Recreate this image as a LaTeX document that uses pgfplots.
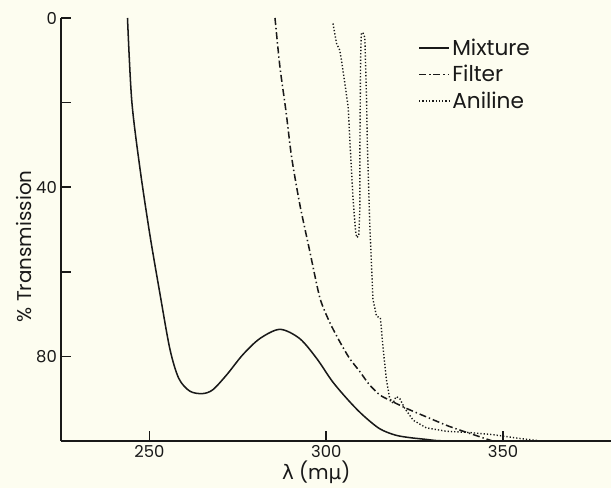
\documentclass[border=0pt]{standalone}
\usepackage{fontspec}
\setmainfont{Poppins}
\newfontfamily\greek{DejaVu Sans}
\usepackage{pgfplots}
\pgfplotsset{compat=1.18}

\definecolor{paper}{RGB}{253,253,240}
\definecolor{ink}{RGB}{25,25,25}

\begin{document}
\begin{tikzpicture}
% page: 611x488 px at 0.03 cm per px
\fill[paper] (-1.83,-1.41) rectangle (16.5,13.23);
\useasboundingbox (-1.83,-1.41) rectangle (16.5,13.23);
\begin{axis}[
    scale only axis,
    width=16.5cm, height=12.69cm,
    xmin=225, xmax=380.5,
    ymin=0, ymax=100,
    y dir=reverse,
    axis x line=bottom, axis y line=left,
    axis line style={-, line width=1.6pt, ink},
    xtick={250,300,350},
    ytick={0,20,40,60,80},
    yticklabels={0,,40,,80},
    minor tick num=0,
    tick align=inside,
    major tick length=0.3cm,
    tick style={line width=1.5pt, ink},
    /pgf/number format/assume math mode=true,
    /pgf/number format/1000 sep={},
    ticklabel style={font=\fontsize{14}{16}\selectfont, text=ink},
    xlabel={{\greek λ} (m{\greek μ})},
    ylabel={\% Transmission},
    label style={font=\fontsize{17}{20}\selectfont, text=ink},
    xlabel style={at={(axis description cs:0.464,-0.073)}, anchor=center},
    ylabel style={at={(axis description cs:-0.068,0.46)}, anchor=center, rotate=0},
    legend style={at={(axis description cs:0.643,0.962)}, anchor=north west,
        draw=none, fill=none, font=\fontsize{18.5}{21}\selectfont, text=ink,
        row sep=3pt},
    legend cell align=left,
    legend image code/.code={\draw[#1] (0cm,0cm) -- (0.9cm,0cm);},
]

\addplot[ink, line width=1.3pt, smooth, tension=0.5] coordinates {
    (243.8,0) (245.0,19.5) (247.3,35.4) (250.1,51.1) (253.0,65.3)
    (255.8,78.3) (258.3,85.2) (261.4,88.2) (264.9,88.8) (267.9,87.9)
    (271.9,84.3) (276.4,79.6) (281.2,75.8) (286.9,73.6) (292.5,75.8)
    (297.3,80.5) (301.8,86.0) (306.6,90.7) (310.5,94.0) (315.1,97.1)
    (319.5,98.6) (323.6,99.2) (328.0,99.6) (331.2,99.9) (335.0,100)
};
\addlegendentry{Mixture}

\addplot[ink, line width=1.3pt, smooth, tension=0.4,
    dash pattern=on 6pt off 2.5pt on 1.2pt off 2.5pt] coordinates {
    (285.5,0) (286.9,11.6) (288.6,22) (290.2,32.9) (292.5,44.0)
    (295.3,55) (298.2,66.2) (301.0,72) (303.8,76.5) (306.6,80.5)
    (309.5,83.6) (312.0,86.5) (315.1,89.1) (318.5,90.6) (322.7,92.3)
    (328.3,94.3) (334.0,96.3) (337.7,97.4) (343.4,99.0) (347.0,100)
};
\addlegendentry{Filter}

\addplot[ink, line width=1.2pt, dash pattern=on 1.1pt off 1.7pt] coordinates {
    (301.9,1.3) (302.9,6.0) (303.8,7.6) (304.3,10.0) (305.2,15.1)
    (306.2,21.1) (306.7,29.5) (307.6,43.2) (308.3,50.5) (308.6,51.9)
    (309.2,51.5) (309.5,45) (309.5,31) (309.7,10) (309.9,3.8)
    (310.3,3.4) (310.9,4.6) (311.4,19.5) (311.6,29.5) (312.3,48.8)
    (313.2,66.5) (314.2,70.5) (315.3,70.9) (316.0,77.5) (317.0,85.5)
    (317.9,89.8) (318.9,91.1) (319.3,90.2) (319.8,89.5) (320.8,90.0)
    (322.2,92.3) (324.6,95.1) (328.3,96.9) (334.0,97.7) (340.5,98.0)
    (347.1,98.5) (354.7,99.4) (360.8,100)
};
\addlegendentry{Aniline}

\end{axis}
\end{tikzpicture}
\end{document}
